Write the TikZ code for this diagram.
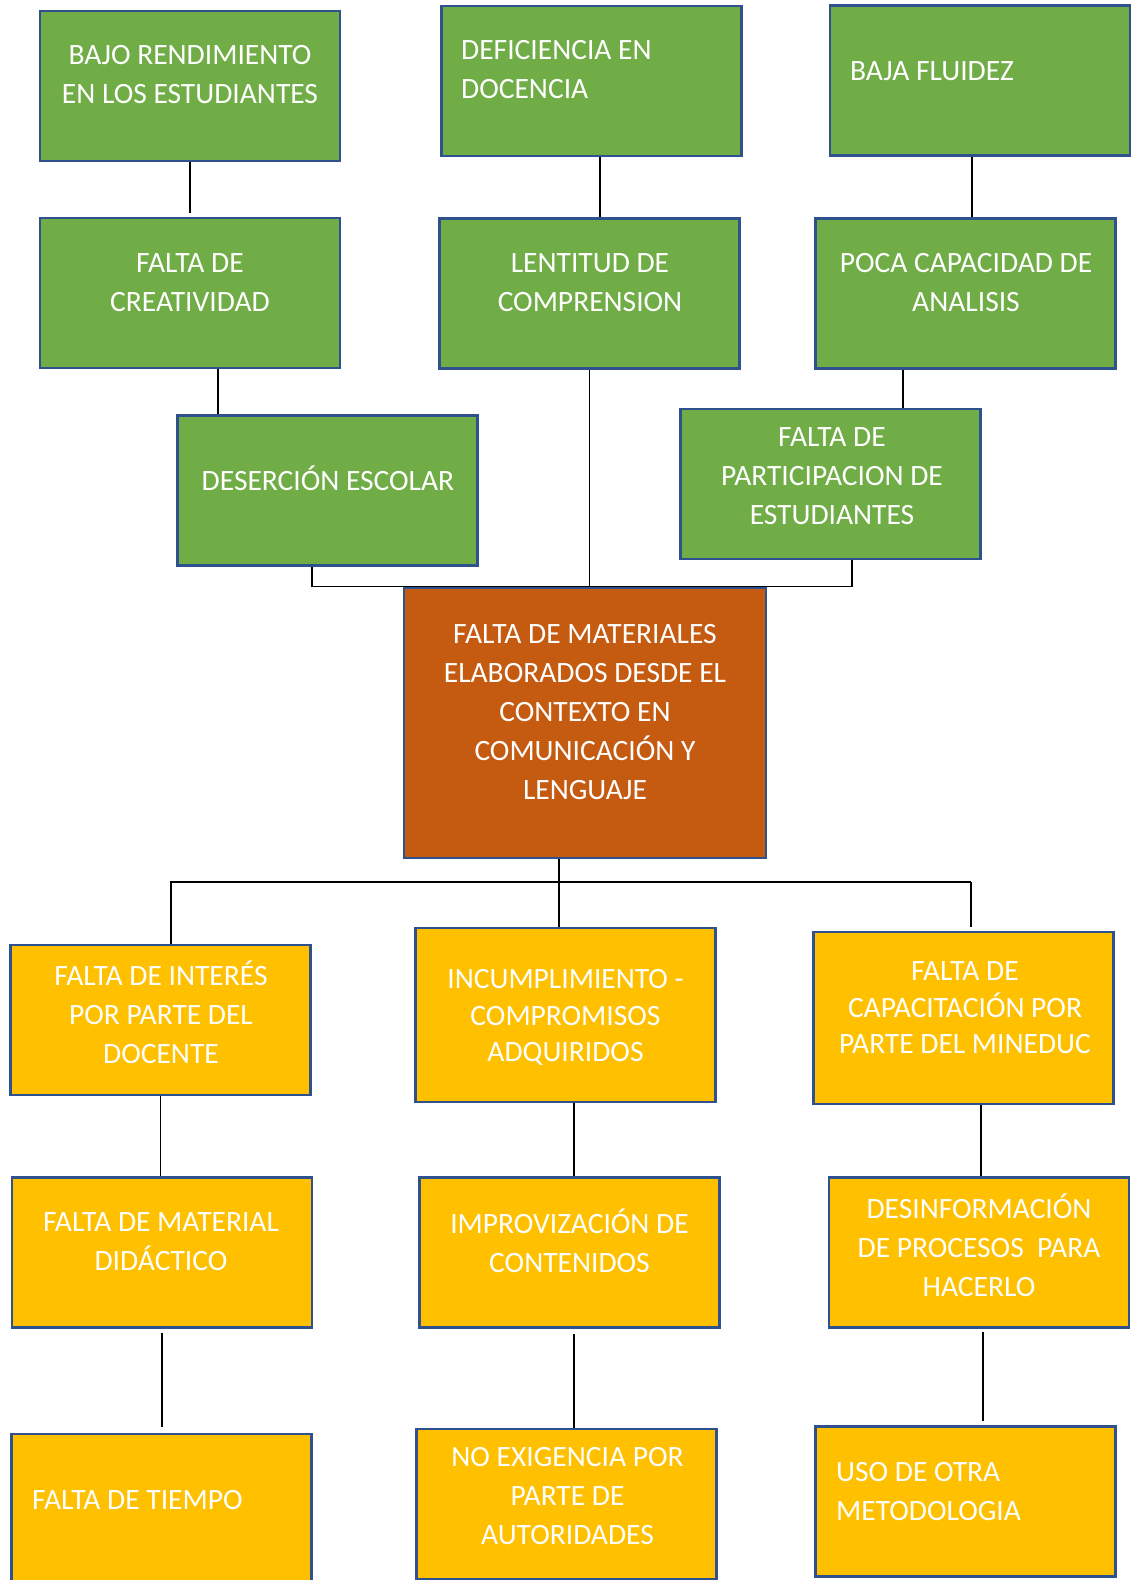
\documentclass[tikz,border=0pt]{standalone}
\usepackage{fontspec}
\setmainfont{Carlito}
\usetikzlibrary{calc}

\definecolor{leafgreen}{HTML}{70AD47}
\definecolor{rootorange}{HTML}{C55A11}
\definecolor{cellgold}{HTML}{FFC000}
\definecolor{edgeblue}{HTML}{2F528F}

\begin{document}
\begin{tikzpicture}[x=1pt,y=-1pt,
    box/.style={draw=edgeblue, line width=2.5pt, minimum width=300pt, minimum height=150pt, inner sep=0pt},
    effect/.style={box, fill=leafgreen},
    cause/.style={box, fill=cellgold},
    problem/.style={box, fill=rootorange, minimum width=362pt, minimum height=270pt},
    txt/.style={text=white, inner sep=0pt, align=center, font=\fontsize{29.5}{39}\selectfont,
        execute at begin node=\strut, execute at end node=\strut},
    tight/.style={font=\fontsize{29.5}{36.5}\selectfont},
    link/.style={line width=1.3pt, black}]

    \useasboundingbox (0,0) rectangle (1135,1580);

        % Effects (top)
        \node[effect] (bajo) at (190,86) {};
        \node[effect] (defic) at (591.5,81) {};
        \node[effect] (fluid) at (980,80.5) {};
        \node[effect] (creat) at (190,293) {};
        \node[effect] (lent) at (589.5,293.5) {};
        \node[effect] (poca) at (965.5,293.5) {};
        \node[effect] (deser) at (327.5,490.5) {};
        \node[effect] (partic) at (830.5,484) {};

        % Central problem
        \node[problem] (central) at (585,723) {};

        % Causes (bottom)
        \node[cause] (interes) at (160.5,1020) {};
        \node[cause, minimum height=174pt] (incump) at (565.5,1015) {};
        \node[cause, minimum height=172pt] (capac) at (963.5,1018) {};
        \node[cause] (mater) at (162,1252.5) {};
        \node[cause] (improv) at (569.5,1252.5) {};
        \node[cause] (desinf) at (979,1252.5) {};
        \node[cause] (tiempo) at (161.5,1509) {};
        \node[cause] (noexig) at (566.5,1504) {};
        \node[cause] (uso) at (965.5,1501.5) {};

        % Texts
        \node[txt] (bajo-t) at (190,80) {BAJO RENDIMIENTO\\EN LOS ESTUDIANTES};
        \node[txt, anchor=west, align=left] (defic-t) at (461,75) {DEFICIENCIA EN\\DOCENCIA};
        \node[txt, anchor=west] (fluid-t) at (850,72.5) {BAJA FLUIDEZ};
        \node[txt] (creat-t) at (190,288) {FALTA DE\\CREATIVIDAD};
        \node[txt] (lent-t) at (590,288) {LENTITUD DE\\COMPRENSION};
        \node[txt] (poca-t) at (966,288) {POCA CAPACIDAD DE\\ANALISIS};
        \node[txt] (deser-t) at (328,482.5) {DESERCIÓN ESCOLAR};
        \node[txt] (partic-t) at (832,482) {FALTA DE\\PARTICIPACION DE\\ESTUDIANTES};
        \node[txt] (central-t) at (585,717.5) {FALTA DE MATERIALES\\ELABORADOS DESDE EL\\CONTEXTO EN\\COMUNICACIÓN Y\\LENGUAJE};
        \node[txt] (interes-t) at (161,1018) {FALTA DE INTERÉS\\POR PARTE DEL\\DOCENTE};
        \node[txt, tight] (incump-t) at (565.5,1021) {INCUMPLIMIENTO -\\COMPROMISOS\\ADQUIRIDOS};
        \node[txt, tight] (capac-t) at (965,1013) {FALTA DE\\CAPACITACIÓN POR\\PARTE DEL MINEDUC};
        \node[txt] (mater-t) at (161,1247) {FALTA DE MATERIAL\\DIDÁCTICO};
        \node[txt] (improv-t) at (569.5,1247) {IMPROVIZACIÓN DE\\CONTENIDOS};
        \node[txt] (desinf-t) at (979,1251) {DESINFORMACIÓN\\DE PROCESOS \ PARA\\HACERLO};
        \node[txt, anchor=west] (tiempo-t) at (32,1502) {FALTA DE TIEMPO};
        \node[txt] (noexig-t) at (567.5,1502) {NO EXIGENCIA POR\\PARTE DE\\AUTORIDADES};
        \node[txt, anchor=west, align=left] (uso-t) at (836,1497) {USO DE OTRA\\METODOLOGIA};

        % Upper connectors
        \draw[link, shorten >=4pt] (bajo.south) -- (creat.north);
        \draw[link] ([xshift=8.5pt]defic.south) -- ([xshift=8.5pt]defic.south |- lent.north);
        \draw[link] ([xshift=-8pt]fluid.south) -- ([xshift=-8pt]fluid.south |- poca.north);
        \draw[link] ([xshift=28pt]creat.south) -- ([xshift=28pt]creat.south |- deser.north);
        \draw[link] ([xshift=-62.5pt]poca.south) -- ([xshift=-62.5pt]poca.south |- partic.north);
        \draw[link] (lent.south) -- (lent.south |- central.north);
        \draw[link] ([xshift=-15.5pt]deser.south) |- ([xshift=21.5pt]partic.south |- central.north)
            -- ([xshift=21.5pt]partic.south);

        % Lower connectors
        \coordinate (bus) at (0,882);
        \draw[link] ([xshift=-26pt]central.south) -- ([xshift=-26pt]central.south |- incump.north);
        \draw[link] ([xshift=10.5pt]interes.north) |- ([xshift=7.5pt]capac.north |- bus);
        \draw[link, shorten >=4pt] ([xshift=7.5pt]capac.north |- bus) -- ([xshift=7.5pt]capac.north);
        \draw[link] (interes.south) -- (interes.south |- mater.north);
        \draw[link, shorten <=4pt, shorten >=6pt] (mater.south) -- (mater.south |- tiempo.north);
        \draw[link] ([xshift=8.5pt]incump.south) -- ([xshift=8.5pt]incump.south |- improv.north);
        \draw[link, shorten <=5pt] ([xshift=4.5pt]improv.south) -- ([xshift=4.5pt]improv.south |- noexig.north);
        \draw[link] ([xshift=17.5pt]capac.south) -- ([xshift=17.5pt]capac.south |- desinf.north);
        \draw[link, shorten <=3pt, shorten >=4pt] ([xshift=4pt]desinf.south) -- ([xshift=4pt]desinf.south |- uso.north);

\end{tikzpicture}
\end{document}
